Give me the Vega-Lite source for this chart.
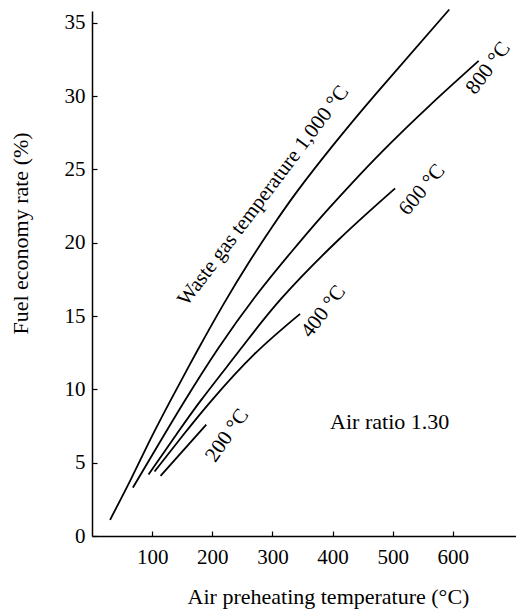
{
  "$schema": "https://vega.github.io/schema/vega-lite/v6.json",
  "width": 424,
  "height": 525,
  "autosize": {"type": "none"},
  "padding": {"left": 92, "top": 11, "right": 0, "bottom": 80},
  "background": "white",
  "config": {
    "view": {"stroke": null},
    "font": "Liberation Serif",
    "axis": {
      "grid": false,
      "domainColor": "black",
      "domainWidth": 1.5,
      "tickColor": "black",
      "tickWidth": 1.2,
      "tickSize": -5,
      "labelFont": "Liberation Serif",
      "labelFontSize": 21,
      "labelColor": "black",
      "titleFont": "Liberation Serif",
      "titleFontSize": 22,
      "titleFontWeight": "normal",
      "titleColor": "black"
    },
    "text": {"font": "Liberation Serif", "fontSize": 21, "color": "black"}
  },
  "datasets": {
    "curves": [
      {"series": "1000", "x": 30, "y": 1.1},
      {"series": "1000", "x": 65, "y": 3.9},
      {"series": "1000", "x": 96, "y": 6.5},
      {"series": "1000", "x": 130, "y": 9.2},
      {"series": "1000", "x": 176, "y": 12.7},
      {"series": "1000", "x": 220, "y": 15.9},
      {"series": "1000", "x": 260, "y": 18.6},
      {"series": "1000", "x": 300, "y": 21.1},
      {"series": "1000", "x": 343, "y": 23.6},
      {"series": "1000", "x": 400, "y": 26.6},
      {"series": "1000", "x": 471, "y": 30.1},
      {"series": "1000", "x": 594, "y": 35.9},
      {"series": "800", "x": 68, "y": 3.3},
      {"series": "800", "x": 110, "y": 6.2},
      {"series": "800", "x": 154, "y": 9.2},
      {"series": "800", "x": 210, "y": 12.8},
      {"series": "800", "x": 271, "y": 16.3},
      {"series": "800", "x": 330, "y": 19.3},
      {"series": "800", "x": 382, "y": 21.8},
      {"series": "800", "x": 432, "y": 24.05},
      {"series": "800", "x": 482, "y": 26.2},
      {"series": "800", "x": 560, "y": 29.3},
      {"series": "800", "x": 643, "y": 32.4},
      {"series": "600", "x": 94, "y": 4.2},
      {"series": "600", "x": 140, "y": 6.9},
      {"series": "600", "x": 182, "y": 9.3},
      {"series": "600", "x": 250, "y": 12.9},
      {"series": "600", "x": 315, "y": 16.2},
      {"series": "600", "x": 410, "y": 20.2},
      {"series": "600", "x": 504, "y": 23.7},
      {"series": "400", "x": 104, "y": 4.4},
      {"series": "400", "x": 150, "y": 6.8},
      {"series": "400", "x": 198, "y": 9.2},
      {"series": "400", "x": 270, "y": 12.4},
      {"series": "400", "x": 346, "y": 15.15},
      {"series": "200", "x": 114, "y": 4.1},
      {"series": "200", "x": 190, "y": 7.6}
    ]
  },
  "layer": [
    {
      "data": {"name": "curves"},
      "mark": {"type": "line", "color": "black", "strokeWidth": 1.8, "interpolate": "natural", "clip": false},
      "encoding": {
        "x": {
          "field": "x", "type": "quantitative",
          "scale": {"domain": [0, 705], "nice": false, "zero": false},
          "axis": {
            "values": [100, 200, 300, 400, 500, 600],
            "labelPadding": 15,
            "title": "Air preheating temperature (°C)",
            "titleX": 236,
            "titleY": 67,
            "titleBaseline": "alphabetic",
            "titleAlign": "center"
          }
        },
        "y": {
          "field": "y", "type": "quantitative",
          "scale": {"domain": [0, 35.8], "nice": false, "zero": false},
          "axis": {
            "values": [0, 5, 10, 15, 20, 25, 30, 35],
            "labelPadding": 12,
            "title": "Fuel economy rate (%)",
            "titleX": -65,
            "titleY": 222,
            "titleAngle": -90,
            "titleBaseline": "alphabetic",
            "titleAlign": "center"
          }
        },
        "detail": {"field": "series"}
      }
    },
    {
      "data": {"values": [{"label": "Waste gas temperature 1,000 °C", "x": 285, "y": 23.2}]},
      "mark": {"type": "text", "angle": -53, "align": "center", "baseline": "middle"},
      "encoding": {"x": {"field": "x", "type": "quantitative"}, "y": {"field": "y", "type": "quantitative"}, "text": {"field": "label"}}
    },
    {
      "data": {"values": [{"label": "800 °C", "x": 659, "y": 31.9}, {"label": "400 °C", "x": 385, "y": 15.3}]},
      "mark": {"type": "text", "angle": -53, "align": "center", "baseline": "middle"},
      "encoding": {"x": {"field": "x", "type": "quantitative"}, "y": {"field": "y", "type": "quantitative"}, "text": {"field": "label"}}
    },
    {
      "data": {"values": [{"label": "600 °C", "x": 549, "y": 23.6}]},
      "mark": {"type": "text", "angle": -50, "align": "center", "baseline": "middle"},
      "encoding": {"x": {"field": "x", "type": "quantitative"}, "y": {"field": "y", "type": "quantitative"}, "text": {"field": "label"}}
    },
    {
      "data": {"values": [{"label": "200 °C", "x": 225, "y": 6.85}]},
      "mark": {"type": "text", "angle": -55, "align": "center", "baseline": "middle"},
      "encoding": {"x": {"field": "x", "type": "quantitative"}, "y": {"field": "y", "type": "quantitative"}, "text": {"field": "label"}}
    },
    {
      "data": {"values": [{"label": "Air ratio 1.30", "x": 495, "y": 7.75}]},
      "mark": {"type": "text", "align": "center", "baseline": "middle", "fontSize": 22},
      "encoding": {"x": {"field": "x", "type": "quantitative"}, "y": {"field": "y", "type": "quantitative"}, "text": {"field": "label"}}
    }
  ]
}
